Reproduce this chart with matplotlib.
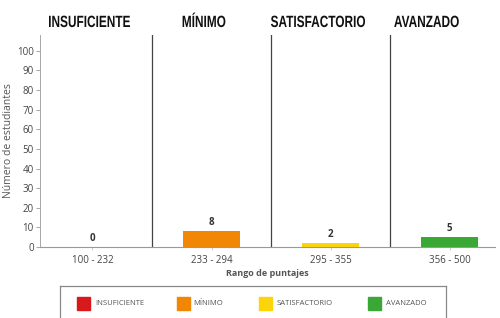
import numpy as np
import matplotlib.pyplot as plt
from matplotlib.textpath import TextPath
from matplotlib.patches import PathPatch
from matplotlib.font_manager import FontProperties
from matplotlib.transforms import Affine2D

niveles = ["INSUFICIENTE", "MÍNIMO", "SATISFACTORIO", "AVANZADO"]
rangos = ["100 - 232", "233 - 294", "295 - 355", "356 - 500"]
estudiantes = [0, 8, 2, 5]
colores = ["#d7191c", "#f28705", "#fbd40a", "#3aa835"]

plt.rcParams['font.family'] = ['Open Sans', 'DejaVu Sans']

fig = plt.figure(figsize=(5, 3.18), dpi=100)
ax = fig.add_axes([0.08, 0.223, 0.91, 0.667])

x = np.arange(len(rangos))
ax.bar(x, estudiantes, width=0.48, color=colores)
for xi, v in zip(x, estudiantes):
    ax.text(xi, v + 1.5, str(v), ha="center", va="bottom", fontsize=7,
            fontweight="bold", color="#333333")

# separadores entre niveles
for d in [0.5, 1.5, 2.5]:
    ax.axvline(d, color="#444444", lw=0.9)

ax.set_xlim(-0.44, 3.38)
ax.set_ylim(0, 108)
ax.set_yticks(range(0, 101, 10))
ax.set_xticks(x)
ax.set_xticklabels(rangos)
ax.tick_params(axis="y", labelsize=7, colors="#999999", length=3, width=0.6,
               labelcolor="#444444", pad=1.5)
ax.tick_params(axis="x", labelsize=7, length=2, width=0.5, colors="#bbbbbb",
               labelcolor="#444444", pad=4)

for s in ["top", "right"]:
    ax.spines[s].set_visible(False)
ax.spines["left"].set_color("#999999")
ax.spines["left"].set_linewidth(0.6)
ax.spines["bottom"].set_color("#999999")
ax.spines["bottom"].set_linewidth(0.8)

ax.set_ylabel("Número de estudiantes", fontsize=7.5, color="#555555")
ax.yaxis.set_label_coords(-0.058, 0.5)
ax.set_xlabel("Rango de puntajes", fontsize=6.5, color="#555555",
              fontweight="bold", labelpad=2)

# titulos de los niveles (letra condensada)
fp = FontProperties(family="Liberation Sans", weight="bold")
centros_titulo = [89.5, 204, 318, 426.5]  # px
base_y = 318 - 27
for cx, n in zip(centros_titulo, niveles):
    tp = TextPath((0, 0), n, size=16.3, prop=fp)
    if n == niveles[0]:
        bb0 = tp.get_extents()
        escala = 81 / (bb0.x1 - bb0.x0)
    bb = tp.get_extents()
    tr = Affine2D().translate(-(bb.x0 + bb.x1) / 2, 0).scale(escala, 1).translate(cx, base_y)
    fig.add_artist(PathPatch(tp, transform=tr, color="#111111", lw=0))

# leyenda
lax = fig.add_axes([0.12, -0.0126, 0.772, 0.113])
lax.set_xlim(0, 1)
lax.set_ylim(0, 1)
lax.set_xticks([])
lax.set_yticks([])
for s in lax.spines.values():
    s.set_color("#888888")
    s.set_linewidth(0.9)
pos_cuadro = [0.044, 0.303, 0.516, 0.798]
pos_texto = [0.091, 0.345, 0.562, 0.845]
for p, t, n, c in zip(pos_cuadro, pos_texto, niveles, colores):
    lax.add_patch(plt.Rectangle((p, 0.333), 0.034, 0.36, color=c))
    lax.text(t, 0.51, n, fontsize=5.5, va="center", color="#555555")

fig.savefig("out.png", dpi=100)
